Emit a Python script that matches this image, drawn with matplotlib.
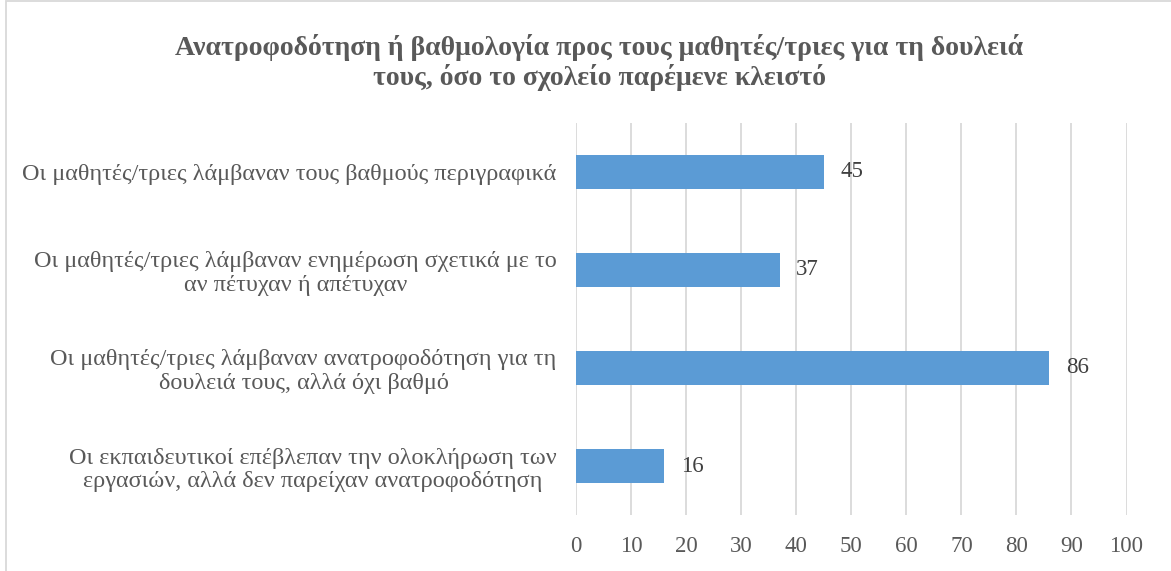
import matplotlib.pyplot as plt
from matplotlib.patches import Rectangle

# Survey answers (top to bottom) and counts
categories = [
    "Οι μαθητές/τριες λάμβαναν τους βαθμούς περιγραφικά",
    "Οι μαθητές/τριες λάμβαναν ενημέρωση σχετικά με το\nαν πέτυχαν ή απέτυχαν",
    "Οι μαθητές/τριες λάμβαναν ανατροφοδότηση για τη\nδουλειά τους, αλλά όχι βαθμό",
    "Οι εκπαιδευτικοί επέβλεπαν την ολοκλήρωση των\nεργασιών, αλλά δεν παρείχαν ανατροφοδότηση",
]
values = [45, 37, 86, 16]
xticks = list(range(0, 101, 10))

title = ("Ανατροφοδότηση ή βαθμολογία προς τους μαθητές/τριες για τη δουλειά\n"
         "τους, όσο το σχολείο παρέμενε κλειστό")

plt.rcParams['font.family'] = ['Liberation Serif', 'DejaVu Serif']
text_col = '#595959'
bar_col = '#5b9bd5'

fig = plt.figure(figsize=(11.71, 5.71), dpi=100)
ax = fig.add_axes([0.492, 0.098, 0.470, 0.687])

ypos = list(range(len(categories)))
ax.barh(ypos, values, height=0.35, color=bar_col, zorder=3)
for y, v in zip(ypos, values):
    ax.text(v + 3.0, y, str(v), va='center', ha='left', fontsize=16.5, color='#404040')

ax.set_xlim(0, 100)
ax.set_ylim(len(categories) - 0.5, -0.5)
ax.set_xticks(xticks)
ax.set_yticks(ypos)
ax.set_yticklabels(categories, fontsize=17.5, color=text_col, ha='right',
                   multialignment='center', linespacing=1.15)
ax.tick_params(axis='x', labelsize=16.5, labelcolor=text_col, length=0, pad=15)
ax.tick_params(axis='y', length=0, pad=14)
ax.grid(axis='x', color='#d9d9d9', linewidth=1.3, zorder=0)
for s in ax.spines.values():
    s.set_visible(False)

fig.text(0.512, 0.891, title, ha='center', va='center', fontsize=20,
         fontweight='bold', color=text_col, linespacing=1.15)

# light frame around the chart area
fig.patches.append(Rectangle((0.005, -0.01), 1.0, 1.008, transform=fig.transFigure,
                             fill=False, edgecolor='#d9d9d9', linewidth=1.3))

fig.savefig('out.png', dpi=100)
